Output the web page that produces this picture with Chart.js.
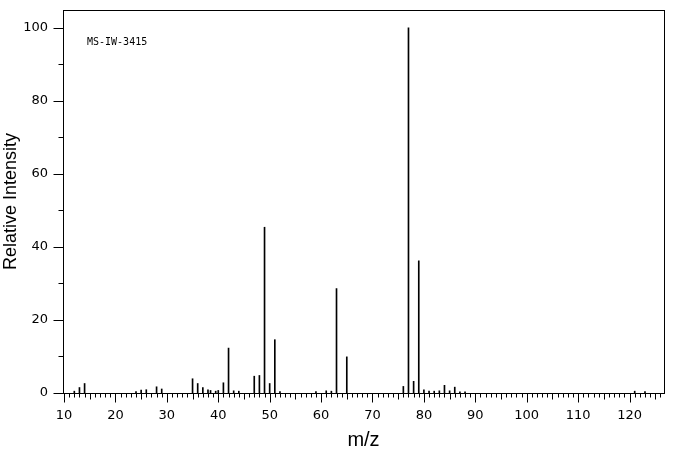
<!DOCTYPE html>
<html>
<head>
<meta charset="utf-8">
<script src="https://cdn.jsdelivr.net/npm/chart.js@4.4.0/dist/chart.umd.min.js"></script>
<style>
  html, body { margin: 0; padding: 0; background: #fff; }
</style>
</head>
<body>
<canvas id="msChart" width="676" height="455"></canvas>
<script>
// peaks (m/z, relative intensity)
const mz = [12, 13, 14, 24, 25, 26, 28, 29, 35, 36, 37, 38, 38.5, 39.5, 40, 41, 42, 43, 44,
  47, 48, 49, 50, 51, 52, 59, 61, 62, 63, 65, 76, 77, 78, 79, 80, 81, 82, 83, 84, 85, 86, 87, 88, 121, 123];
const intensity = [0.5, 1.5, 2.6, 0.4, 0.8, 0.9, 1.7, 1.1, 3.9, 2.6, 1.5, 0.9, 0.7, 0.5, 0.7, 2.8, 12.3, 0.6, 0.5,
  4.6, 4.8, 45.4, 2.6, 14.6, 0.4, 0.4, 0.6, 0.5, 28.6, 9.9, 1.8, 100, 3.2, 36.2, 0.9, 0.5, 0.5, 0.6, 2.1, 0.6, 1.6, 0.3, 0.3, 0.5, 0.4];
const xTickLabels = [10, 20, 30, 40, 50, 60, 70, 80, 90, 100, 110, 120];
const yTickLabels = [0, 20, 40, 60, 80, 100];
const sampleId = 'MS-IW-3415';

const peaks = mz.map((m, i) => ({ x: m, y: intensity[i] }));

// box round the plot, the small tick marks and the sample id
const frame = {
  id: 'frame',
  afterDraw(chart) {
    const { ctx, chartArea: a } = chart;
    const x = chart.scales.x, y = chart.scales.y;
    ctx.save();
    ctx.strokeStyle = '#000';
    ctx.lineWidth = 1;
    const L = Math.round(a.left) + 0.5, R = Math.round(a.right) + 0.5;
    const T = Math.round(a.top) + 0.5, B = Math.round(a.bottom) + 0.5;
    ctx.strokeRect(L, T, R - L, B - T);

    ctx.beginPath();
    for (let v = 10; v <= 126; v++) {
      const len = v % 10 === 0 ? 9 : (v % 5 === 0 ? 6 : 4);
      const px = Math.round(x.getPixelForValue(v)) + 0.5;
      ctx.moveTo(px, B);
      ctx.lineTo(px, B + len);
    }
    for (let v = 0; v <= 100; v += 10) {
      const len = v % 20 === 0 ? 10 : 5;
      const py = Math.round(y.getPixelForValue(v)) + 0.5;
      ctx.moveTo(L, py);
      ctx.lineTo(L - len, py);
    }
    ctx.stroke();

    ctx.fillStyle = '#000';
    ctx.font = '10px "DejaVu Sans Mono"';
    ctx.textBaseline = 'alphabetic';
    ctx.fillText(sampleId, 87, 45);
    ctx.restore();
  }
};

const tickFont = { family: 'DejaVu Sans', size: 13 };

new Chart(document.getElementById('msChart'), {
  type: 'bar',
  data: {
    datasets: [{
      data: peaks,
      backgroundColor: '#000',
      barThickness: 1,
      borderWidth: 0
    }]
  },
  options: {
    responsive: false,
    animation: false,
    devicePixelRatio: 1,
    layout: { padding: { top: 10, right: 12, left: 0, bottom: 0 } },
    plugins: { legend: { display: false }, tooltip: { enabled: false } },
    scales: {
      x: {
        type: 'linear',
        offset: false,
        min: 9.8,
        max: 126.7,
        grid: { display: false, drawTicks: false, offset: false },
        border: { display: false },
        afterBuildTicks: s => { s.ticks = xTickLabels.map(v => ({ value: v })); },
        ticks: { padding: 15, maxRotation: 0, autoSkip: false, color: '#000', font: tickFont },
        title: { display: true, text: 'm/z', color: '#000', font: { family: 'Liberation Sans', size: 20 }, padding: { top: 0, bottom: 3 } },
        afterFit: s => { s.height = 62; s.paddingLeft = 0; s.paddingRight = 0; }
      },
      y: {
        min: 0,
        max: 104.9,
        grid: { display: false, drawTicks: false },
        border: { display: false },
        afterBuildTicks: s => { s.ticks = yTickLabels.map(v => ({ value: v })); },
        ticks: { padding: 15, color: '#000', font: tickFont },
        title: { display: true, text: 'Relative Intensity', color: '#000', font: { family: 'Liberation Sans', size: 18 }, padding: 0 },
        afterFit: s => { s.width = 63; s.paddingTop = 0; s.paddingBottom = 0; }
      }
    }
  },
  plugins: [frame]
});
</script>
</body>
</html>
